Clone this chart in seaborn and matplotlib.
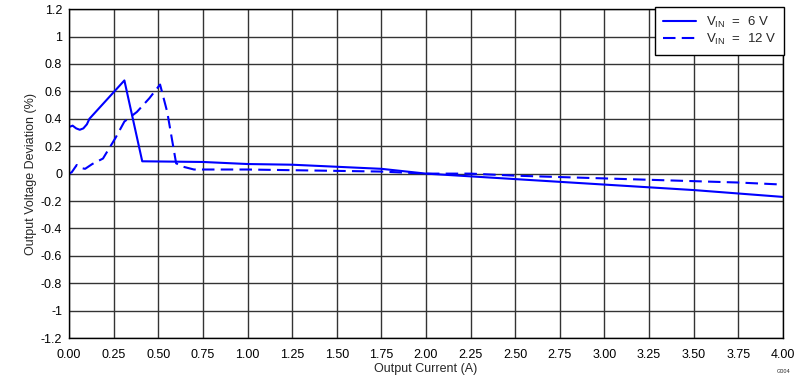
import matplotlib
matplotlib.use("Agg")
import matplotlib.pyplot as plt
import seaborn as sns
import pandas as pd

# 6 V series
x_6v = [0.00, 0.02, 0.04, 0.06, 0.08, 0.10, 0.114, 0.31, 0.41, 0.75, 1.00, 1.25, 1.50, 1.75, 2.00, 2.25, 2.50, 2.75, 3.00, 3.25, 3.50, 3.75, 4.00]
y_6v = [0.34, 0.35, 0.33, 0.32, 0.33, 0.36, 0.40, 0.68, 0.09, 0.085, 0.07, 0.065, 0.05, 0.035, 0.0, -0.02, -0.04, -0.06, -0.08, -0.10, -0.12, -0.145, -0.17]
# 12 V series
x_12v = [0.00, 0.015, 0.043, 0.07, 0.09, 0.13, 0.19, 0.26, 0.31, 0.38, 0.45, 0.51, 0.55, 0.60, 0.64, 0.70, 1.00, 1.25, 1.50, 1.75, 2.00, 2.25, 2.50, 2.75, 3.00, 3.25, 3.50, 3.75, 4.00]
y_12v = [0.00, 0.01, 0.063, 0.04, 0.035, 0.07, 0.11, 0.26, 0.38, 0.45, 0.55, 0.65, 0.45, 0.075, 0.05, 0.03, 0.03, 0.025, 0.02, 0.015, 0.0, 0.0, -0.015, -0.025, -0.035, -0.045, -0.055, -0.065, -0.08]

labels = [r"V$_{\mathregular{IN}}$  =  6 V", r"V$_{\mathregular{IN}}$  =  12 V"]
x_ticks = [0.00, 0.25, 0.50, 0.75, 1.00, 1.25, 1.50, 1.75, 2.00, 2.25, 2.50, 2.75, 3.00, 3.25, 3.50, 3.75, 4.00]
y_ticks = [-1.2, -1, -0.8, -0.6, -0.4, -0.2, 0, 0.2, 0.4, 0.6, 0.8, 1, 1.2]

df = pd.concat([
    pd.DataFrame({"x": x_6v, "y": y_6v, "s": labels[0]}),
    pd.DataFrame({"x": x_12v, "y": y_12v, "s": labels[1]}),
])

sns.set_style("white")
plt.rcParams['font.family'] = ['Liberation Sans', 'DejaVu Sans']
plt.rcParams['font.size'] = 9
plt.rcParams['mathtext.fontset'] = 'custom'
plt.rcParams['mathtext.rm'] = 'Liberation Sans'

fig = plt.figure(figsize=(8.03, 3.82), dpi=100)
ax = fig.add_axes([0.086, 0.115, 0.889, 0.861])

sns.lineplot(data=df, x="x", y="y", hue="s", style="s",
             palette=["#0000ff", "#0000ff"], dashes=[(None, None), (6, 3)],
             linewidth=1.5, ax=ax, sort=False, estimator=None)

ax.set_xlim(0, 4)
ax.set_ylim(-1.2, 1.2)
ax.set_xticks(x_ticks)
ax.set_xticklabels([f"{v:.2f}" for v in x_ticks])
ax.set_yticks(y_ticks)
ax.set_yticklabels([f"{v:g}" for v in y_ticks])
ax.grid(True, color="#333333", linewidth=1.0)
ax.set_axisbelow(True)
for sp in ax.spines.values():
    sp.set_color("black")
    sp.set_linewidth(1.0)
ax.tick_params(axis="both", length=0, labelsize=9, colors="black")
ax.tick_params(axis="y", pad=5)
ax.tick_params(axis="x", pad=8)
ax.set_xlabel("Output Current (A)", fontsize=9, labelpad=1)
ax.set_ylabel("Output Voltage Deviation (%)", fontsize=9, labelpad=3)

leg = ax.legend(loc="upper right", bbox_to_anchor=(1.002, 1.006), frameon=True,
                fancybox=False, fontsize=9.5, edgecolor="black", framealpha=1,
                handlelength=2.5, borderaxespad=0.0, labelspacing=0.1,
                borderpad=0.6)
leg.get_frame().set_linewidth(1.0)

fig.text(0.985, 0.02, "G004", fontsize=4, ha="right", va="bottom")

fig.savefig("out.png", dpi=100)
